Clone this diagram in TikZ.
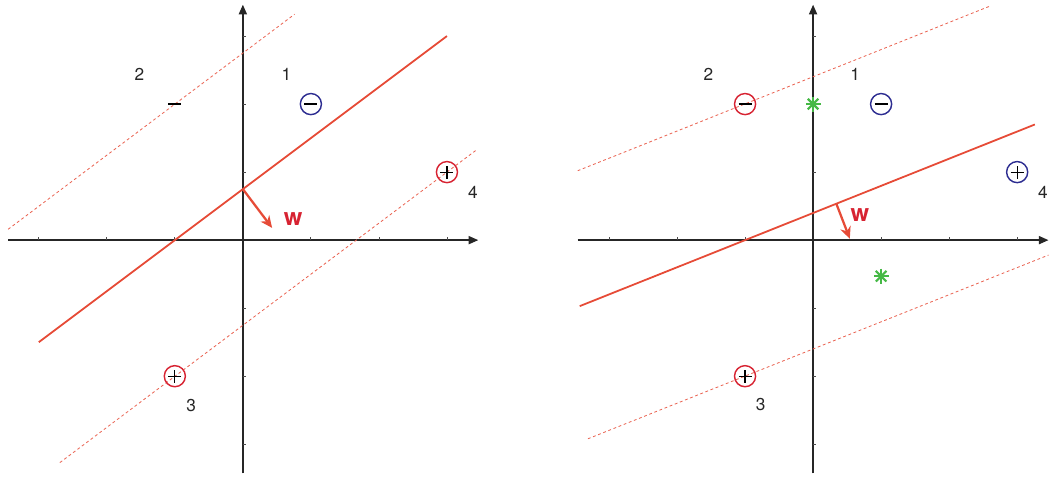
\documentclass[tikz,border=0pt]{standalone}
\usepackage{fontspec}
\setmainfont{TeX Gyre Heros}
\usetikzlibrary{arrows.meta}
\definecolor{sepred}{RGB}{230,75,55}
\definecolor{ptred}{RGB}{215,35,50}
\definecolor{ptblue}{RGB}{45,45,145}
\definecolor{ptgreen}{RGB}{70,185,70}
\tikzset{
  % Axes
  axisline/.style={
    -{Triangle[length=4pt,width=3.4pt]}, line width=0.55pt, black!85
  },
  tickmark/.style={line width=0.35pt, black!70},
  % Separating line and margins
  sepline/.style={sepred, line width=0.75pt},
  marginline/.style={
    sepred!85, line width=0.35pt, dash pattern=on 1.2pt off 1.1pt
  },
  % Normal vector
  wvec/.style={
    -{Stealth[length=5pt,width=4.5pt]}, sepred, line width=0.95pt
  },
  wlabel/.style={
    text=ptred, font=\fontsize{10}{12}\selectfont\bfseries
  },
  % Data points
  ptcircle/.style={
    circle, draw=#1, line width=0.6pt,
    minimum size=0.31cm, inner sep=0pt
  },
  plussign/.style={
    path picture={
      \draw[black, line width=0.5pt]
        ([xshift=-0.095cm]path picture bounding box.center)
          -- ++(0.19,0);
      \draw[black, line width=0.5pt]
        ([yshift=-0.095cm]path picture bounding box.center)
          -- ++(0,0.19);
    }
  },
  minussign/.style={
    path picture={
      \draw[black, line width=0.5pt]
        ([xshift=-0.095cm]path picture bounding box.center)
          -- ++(0.19,0);
    }
  },
  bareminus/.style={
    minimum size=0.31cm, inner sep=0pt, minussign
  },
  starmark/.style={
    minimum size=0.26cm, inner sep=0pt,
    path picture={
      \foreach \a in {0,45,90,135}{
        \draw[ptgreen, line width=0.9pt]
          ([shift={(\a:0.11)}]path picture bounding box.center)
            -- ([shift={(\a+180:0.11)}]path picture bounding box.center);
      }
    }
  },
  ptlabel/.style={font=\fontsize{7.2}{8}\selectfont, text=black!85},
}

\begin{document}
\begin{tikzpicture}

\useasboundingbox (-3.57,-3.49) rectangle (11.85,3.53);

% ── Left panel ────────────────────────────────────────────────────────────────
\begin{scope}
  % axes
  \draw[axisline] (-3.45,0) -- (3.46,0);
  \draw[axisline] (0,-3.43) -- (0,3.46);
  \foreach \t in {-3,-2,-1,1,2,3}{
    \draw[tickmark] (\t,0) -- ++(0,0.05);
    \draw[tickmark] (0,\t) -- ++(0.05,0);
  }

  % separating line y = 0.75(x+1) and margins
  \draw[sepline] (-3.0,-1.5) -- (3.0,3.0);
  \draw[marginline] (-3.45,0.16) -- (0.76,3.32);
  \draw[marginline] (-2.69,-3.27) -- (3.44,1.33);

  % normal vector
  \coordinate (lw0) at (0,0.75);
  \coordinate (lw1) at (0.43,0.18);
  \draw[wvec] (lw0) -- (lw1);
  \node[wlabel] (lwlab) at (0.74,0.31) {w};

  % points
  \node[ptcircle=ptblue, minussign] (lp1) at (1,2) {};
  \node[bareminus] (lp2) at (-1,2) {};
  \node[ptcircle=ptred, plussign] (lp3) at (-1,-2) {};
  \node[ptcircle=ptred, plussign] (lp4) at (3,1) {};

  \node[ptlabel] (ll1) at (0.64,2.44) {1};
  \node[ptlabel] (ll2) at (-1.52,2.44) {2};
  \node[ptlabel] (ll3) at (-0.76,-2.43) {3};
  \node[ptlabel] (ll4) at (3.38,0.70) {4};
\end{scope}

% ── Right panel ───────────────────────────────────────────────────────────────
\begin{scope}[xshift=8.382cm]
  % axes
  \draw[axisline] (-3.46,0) -- (3.46,0);
  \draw[axisline] (0,-3.43) -- (0,3.46);
  \foreach \t in {-3,-2,-1,1,2,3}{
    \draw[tickmark] (\t,0) -- ++(0,0.05);
    \draw[tickmark] (0,\t) -- ++(0.05,0);
  }

  % separating line y = 0.4x + 0.4 and margins
  \draw[sepline] (-3.43,-0.97) -- (3.26,1.70);
  \draw[marginline] (-3.46,1.02) -- (2.6,3.44);
  \draw[marginline] (-3.31,-2.92) -- (3.46,-0.22);

  % normal vector
  \coordinate (rw0) at (0.34,0.54);
  \coordinate (rw1) at (0.54,0.02);
  \draw[wvec] (rw0) -- (rw1);
  \node[wlabel] (rwlab) at (0.69,0.37) {w};

  % points
  \node[ptcircle=ptblue, minussign] (rp1) at (1,2) {};
  \node[ptcircle=ptred, minussign] (rp2) at (-1,2) {};
  \node[ptcircle=ptred, plussign] (rp3) at (-1,-2) {};
  \node[ptcircle=ptblue, plussign] (rp4) at (3,1) {};
  \node[starmark] (rs1) at (0,2) {};
  \node[starmark] (rs2) at (1,-0.53) {};

  \node[ptlabel] (rl1) at (0.62,2.44) {1};
  \node[ptlabel] (rl2) at (-1.54,2.44) {2};
  \node[ptlabel] (rl3) at (-0.77,-2.42) {3};
  \node[ptlabel] (rl4) at (3.38,0.70) {4};
\end{scope}

\end{tikzpicture}
\end{document}
